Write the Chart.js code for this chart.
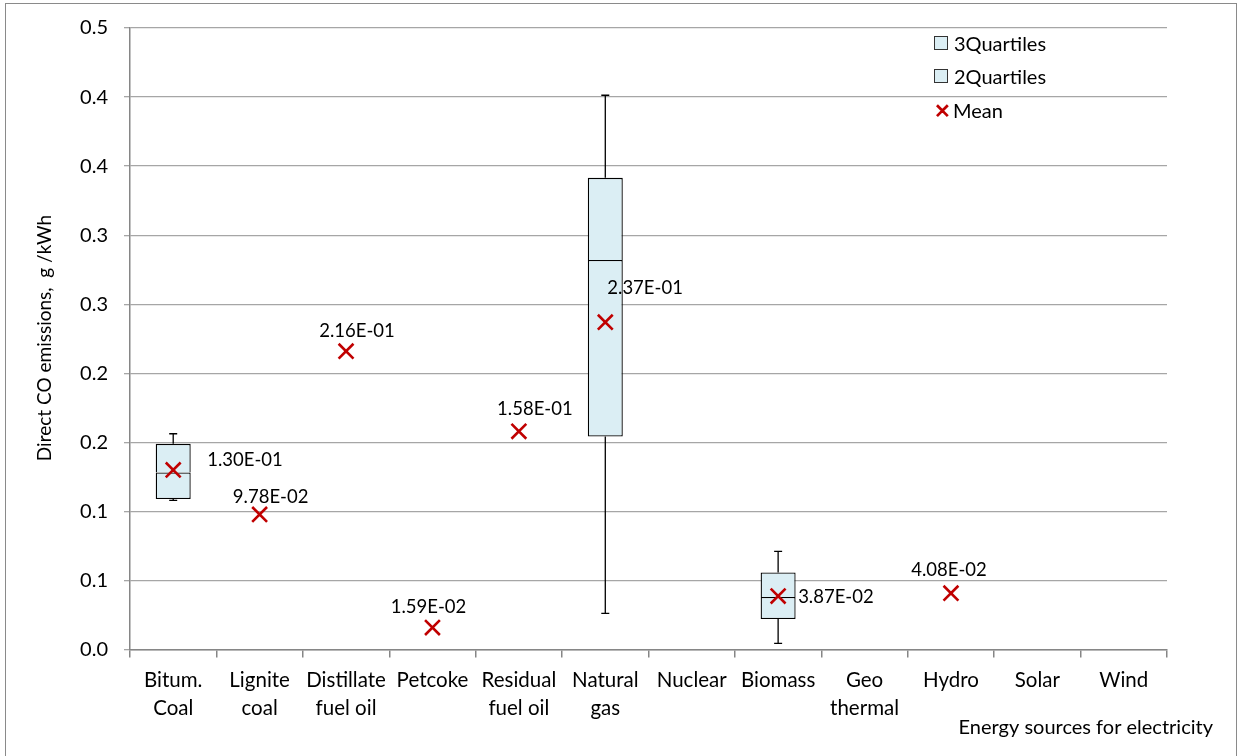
<!DOCTYPE html>
<html lang="en">
<head>
    <meta charset="UTF-8">
    <title>Direct CO emissions</title>
    <script src="https://cdn.jsdelivr.net/npm/chart.js"></script>
    <style>
        body { margin: 0; background: #fff; overflow: hidden; }
        .frame {
            position: absolute; left: 5px; top: 3px;
            width: 1230px; height: 790px;
            border: 1.5px solid #8a8a8a;
            pointer-events: none;
        }
        #chart { position: absolute; left: 0; top: 0; }
        .legend {
            position: absolute; left: 934px; top: 26px;
            font-family: Lato, sans-serif; font-size: 20px; color: #000;
        }
        .legend div { height: 33.5px; display: flex; align-items: center; }
        .legend .box { width: 12px; height: 12px; border: 1px solid #333; margin-right: 6px; }
        .legend .x { width: 14px; margin-right: 5px; color: #c00000; font-weight: bold; font-size: 20px; line-height: 12px; }
    </style>
</head>
<body>
    <canvas id="chart" width="1239" height="756"></canvas>
    <div class="frame"></div>
    <div class="legend" id="legend"></div>

    <script>
        // categories (two-line tick labels)
        const categories = [
            ['Bitum.', 'Coal'], ['Lignite', 'coal'], ['Distillate', 'fuel oil'], ['Petcoke'],
            ['Residual', 'fuel oil'], ['Natural', 'gas'], ['Nuclear'], ['Biomass'],
            ['Geo', 'thermal'], ['Hydro'], ['Solar'], ['Wind']
        ];
        // mean values, g/kWh
        const means = [0.130, 0.0978, 0.216, 0.0159, 0.158, 0.237, null, 0.0387, null, 0.0408, null, null];
        // box plot statistics
        const q1 = [0.1089, null, null, null, null, 0.1542, null, 0.0220, null, null, null, null];
        const median = [0.1282, null, null, null, null, 0.2821, null, 0.0381, null, null, null, null];
        const q3 = [0.1489, null, null, null, null, 0.3415, null, 0.0558, null, null, null, null];
        const whiskerMin = [0.1080, null, null, null, null, 0.0261, null, 0.0045, null, null, null, null];
        const whiskerMax = [0.1562, null, null, null, null, 0.4013, null, 0.0711, null, null, null, null];

        // where each mean label sits relative to its marker
        const labelPlacement = [
            { dx: 34, dy: -10, align: 'left' }, { dx: 11, dy: -17, align: 'center' },
            { dx: 11, dy: -20, align: 'center' }, { dx: -4, dy: -21, align: 'center' },
            { dx: 16, dy: -22, align: 'center' }, { dx: 2, dy: -34, align: 'left' },
            null, { dx: 20, dy: 1, align: 'left' }, null,
            { dx: -2, dy: -23, align: 'center' }, null, null
        ];

        const FONT = 'Lato, sans-serif';
        const boxFill = '#dbeef4';
        const meanColor = '#c00000';

        function sci(v) {
            const parts = v.toExponential(2).split('e');
            const e = parseInt(parts[1], 10);
            return parts[0] + 'E' + (e < 0 ? '-' : '+') + String(Math.abs(e)).padStart(2, '0');
        }

        const whiskers = {
            id: 'whiskers',
            beforeDatasetsDraw(chart) {
                const { ctx, scales: { x, y } } = chart;
                ctx.save();
                ctx.strokeStyle = '#000';
                ctx.lineWidth = 1.3;
                categories.forEach((c, i) => {
                    if (whiskerMax[i] == null) return;
                    const px = x.getPixelForValue(i);
                    const lines = [[q3[i], whiskerMax[i]], [q1[i], whiskerMin[i]]];
                    lines.forEach(([from, to]) => {
                        ctx.beginPath();
                        ctx.moveTo(px, y.getPixelForValue(from));
                        ctx.lineTo(px, y.getPixelForValue(to));
                        ctx.moveTo(px - 4, y.getPixelForValue(to));
                        ctx.lineTo(px + 4, y.getPixelForValue(to));
                        ctx.stroke();
                    });
                });
                ctx.restore();
            }
        };

        const textBits = {
            id: 'textBits',
            afterDraw(chart) {
                const { ctx } = chart;
                ctx.save();
                ctx.fillStyle = '#000';
                ctx.textBaseline = 'middle';
                // mean labels
                ctx.font = '18.5px ' + FONT;
                const meta = chart.getDatasetMeta(2);
                meta.data.forEach((pt, i) => {
                    const p = labelPlacement[i];
                    if (means[i] == null || !p) return;
                    ctx.textAlign = p.align;
                    ctx.fillText(sci(means[i]), pt.x + p.dx, pt.y + p.dy);
                });
                // axis titles
                ctx.font = '20px ' + FONT;
                ctx.textAlign = 'right';
                ctx.fillText('Energy sources for electricity', 1213, 728);
                ctx.font = '19px ' + FONT;
                ctx.translate(45, 338);
                ctx.rotate(-Math.PI / 2);
                ctx.textAlign = 'center';
                ctx.fillText('Direct CO emissions,  g /kWh', 0, 0);
                ctx.restore();
            }
        };

        const ctx = document.getElementById('chart').getContext('2d');
        const chart = new Chart(ctx, {
            data: {
                labels: categories,
                datasets: [
                    {
                        type: 'bar', label: '3Quartiles', order: 2,
                        data: categories.map((c, i) => q3[i] == null ? null : [median[i], q3[i]]),
                        backgroundColor: boxFill, borderColor: '#000', borderWidth: 1.3,
                        borderSkipped: 'bottom', grouped: false,
                        barPercentage: 0.405, categoryPercentage: 1
                    },
                    {
                        type: 'bar', label: '2Quartiles', order: 1,
                        data: categories.map((c, i) => q1[i] == null ? null : [q1[i], median[i]]),
                        backgroundColor: boxFill, borderColor: '#000', borderWidth: 1.3,
                        borderSkipped: false, grouped: false,
                        barPercentage: 0.405, categoryPercentage: 1
                    },
                    {
                        type: 'line', label: 'Mean', data: means, order: 0,
                        showLine: false, pointStyle: 'crossRot',
                        pointRadius: 10.5, pointBorderWidth: 2.6,
                        borderColor: meanColor, backgroundColor: meanColor
                    }
                ]
            },
            options: {
                responsive: false,
                animation: false,
                events: [],
                layout: { padding: { left: 0, top: 26, right: 72, bottom: 0 } },
                plugins: { legend: { display: false }, tooltip: { enabled: false } },
                scales: {
                    x: {
                        offset: true,
                        afterFit: s => { s.height = 106.5; },
                        grid: { offset: true, drawOnChartArea: false, tickLength: 8, color: '#868686', lineWidth: 1.5 },
                        border: { color: '#868686', width: 1.5 },
                        ticks: { color: '#000', font: { family: FONT, size: 20.5, lineHeight: 1.37 }, padding: 9, maxRotation: 0, autoSkip: false }
                    },
                    y: {
                        min: 0, max: 0.45,
                        afterFit: s => { s.width = 130; },
                        grid: { color: '#a6a6a6', lineWidth: 1.3, tickLength: 6 },
                        border: { color: '#868686', width: 1.5 },
                        ticks: {
                            stepSize: 0.05, color: '#000', padding: 16,
                            font: { family: FONT, size: 20 },
                            callback: v => (Math.round(v * 10 + 1e-9) / 10).toFixed(1)
                        }
                    }
                }
            },
            plugins: [whiskers, textBits]
        });

        // legend built from the datasets
        const legend = document.getElementById('legend');
        chart.data.datasets.forEach(ds => {
            const row = document.createElement('div');
            const mark = document.createElement('span');
            if (ds.type === 'bar') {
                mark.className = 'box';
                mark.style.background = ds.backgroundColor;
            } else {
                mark.className = 'x';
                mark.textContent = '\u2715';
            }
            row.appendChild(mark);
            row.appendChild(document.createTextNode(ds.label));
            legend.appendChild(row);
        });
    </script>
</body>
</html>
